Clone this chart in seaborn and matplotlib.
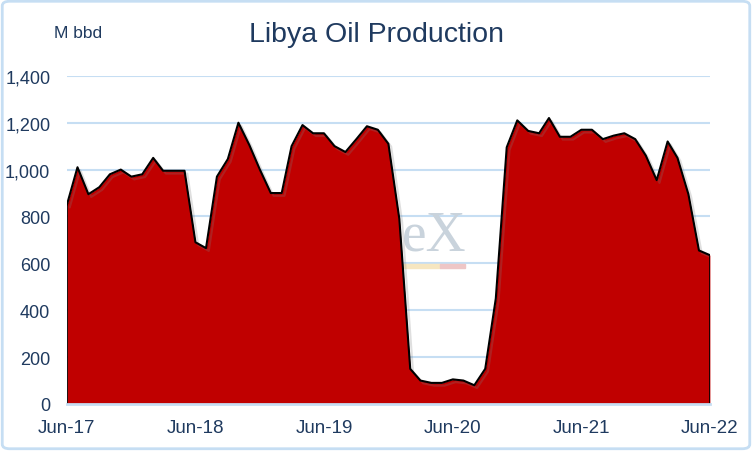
import pandas as pd
import matplotlib
matplotlib.use("Agg")
import matplotlib.pyplot as plt
import matplotlib.dates as mdates
import matplotlib.patheffects as pe
from matplotlib.patches import FancyBboxPatch, Rectangle
from matplotlib.ticker import FuncFormatter
import seaborn as sns

# Production de petrole en Libye, mensuel, juin 2017 -> juin 2022 (milliers b/j)
mois = pd.date_range("2017-06-01", "2022-06-01", freq="MS")
production = [
    850, 1010, 895, 925, 980, 1000, 970, 980, 1050, 995, 995, 995,
    690, 665, 970, 1045, 1200, 1105, 1000, 900, 900, 1100, 1190, 1155,
    1155, 1100, 1075, 1130, 1185, 1170, 1110, 790, 150, 100, 90, 90,
    105, 100, 80, 150, 450, 1095, 1210, 1165, 1155, 1220, 1140, 1140,
    1170, 1170, 1130, 1145, 1155, 1130, 1060, 955, 1120, 1050, 895, 655,
    635,
]
titre = "Libya Oil Production"
unite = "M bbd"

df = pd.DataFrame({"mois": mois, "production": production})

bleu_texte = "#1f3a5f"
bleu_grille = "#c6def3"
rouge = "#c00000"

sns.set_style("white")
plt.rcParams["font.family"] = ["Liberation Sans", "DejaVu Sans"]

fig = plt.figure(figsize=(7.52, 4.52), dpi=100)
ax = fig.add_axes([0.089, 0.104, 0.855, 0.726])

# filigrane (logo en arriere-plan)
ax.text(0.621, 0.476, "eX", transform=fig.transFigure, ha="right", va="center",
        fontsize=40, family="Liberation Serif", color="#c9d3dc", zorder=1)
ax.add_patch(Rectangle((0.535, 0.405), 0.05, 0.009, transform=fig.transFigure,
                       color="#f6e6c0", zorder=1, clip_on=False))
ax.add_patch(Rectangle((0.585, 0.405), 0.034, 0.009, transform=fig.transFigure,
                       color="#eec6c6", zorder=1, clip_on=False))

ax.fill_between(df["mois"], df["production"], 0, color=rouge, zorder=2, linewidth=0)
sns.lineplot(x="mois", y="production", data=df, ax=ax, color="black", linewidth=1.5,
             zorder=3, path_effects=[pe.SimpleLineShadow(offset=(2, -2), alpha=0.25, shadow_color="gray"),
                                     pe.Normal()])
ax.plot([df["mois"].iloc[0]] * 2, [0, production[0]], color="black", linewidth=1.2, zorder=3)
ax.plot([df["mois"].iloc[-1]] * 2, [0, production[-1]], color="black", linewidth=1.2, zorder=3)

ax.set_xlim(df["mois"].iloc[0], df["mois"].iloc[-1])
ax.set_ylim(0, 1400)
ax.set_yticks(range(0, 1401, 200))
ax.yaxis.set_major_formatter(FuncFormatter(lambda v, p: f"{int(v):,}"))
ax.set_xticks(pd.date_range("2017-06-01", "2022-06-01", freq="12MS"))
ax.xaxis.set_major_formatter(mdates.DateFormatter("%b-%y"))

ax.grid(axis="y", color=bleu_grille, linewidth=1.5, zorder=0)
ax.set_axisbelow(True)
for s in ["top", "right", "left"]:
    ax.spines[s].set_visible(False)
ax.spines["bottom"].set_color(bleu_grille)
ax.spines["bottom"].set_linewidth(2)
ax.spines["bottom"].set_zorder(4)

ax.tick_params(axis="x", colors=bleu_texte, labelsize=13.5, length=6, width=2,
               color=bleu_grille, pad=5, direction="out")
ax.tick_params(axis="y", colors=bleu_texte, labelsize=13, length=0, pad=12)
ax.set_xlabel("")
ax.set_ylabel("")

fig.text(0.501, 0.922, titre, ha="center", va="center", fontsize=20.5, color=bleu_texte)
fig.text(0.104, 0.925, unite, ha="center", va="center", fontsize=12.5, color=bleu_texte)

cadre = FancyBboxPatch((0.003, 0.005), 0.994, 0.99, boxstyle="round,pad=0,rounding_size=0.01",
                       transform=fig.transFigure, fill=False, edgecolor=bleu_grille, linewidth=2)
fig.patches.append(cadre)

fig.savefig("out.png", dpi=100, facecolor="white")
